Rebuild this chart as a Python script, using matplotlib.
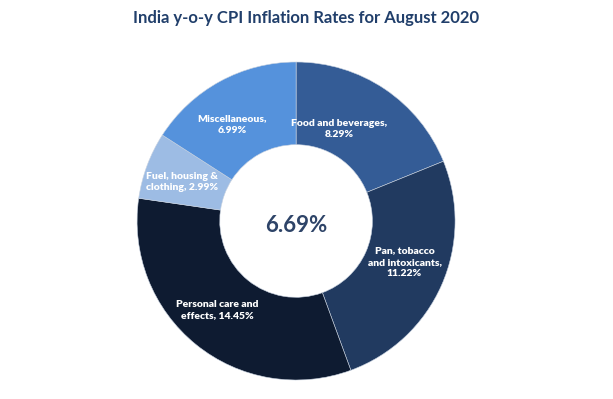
import numpy as np
import matplotlib.pyplot as plt

# India CPI components, Aug 2020
categories = ['Food and beverages,\n8.29%', 'Pan, tobacco\nand intoxicants,\n11.22%',
              'Personal care and\neffects, 14.45%', 'Fuel, housing &\nclothing, 2.99%',
              'Miscellaneous,\n6.99%']
values = [8.29, 11.22, 14.45, 2.99, 6.99]
colors = ['#345c96', '#213a60', '#0e1b31', '#9dbce4', '#5592dc']
headline = '6.69%'

# label nudges (angle shift in degrees, radius) to mimic the excel placement
label_shift = [9, 3, -2.6, 1.6, 5]
label_rad = [0.64, 0.73, 0.75, 0.76, 0.73]

fig = plt.figure(figsize=(6.13, 3.99), dpi=100)
ax = fig.add_axes([0.2235, 0.0476, 0.519, 0.797])

wedges, texts = ax.pie(values, labels=categories, colors=colors, startangle=90,
                       counterclock=False, radius=1.0, labeldistance=0.73,
                       wedgeprops=dict(width=0.52, edgecolor='#c8d2e0', linewidth=0.4),
                       textprops=dict(color='white', fontsize=7.5, fontweight='heavy',
                                      family='Lato'))
for w, t, da, r in zip(wedges, texts, label_shift, label_rad):
    ang = np.deg2rad((w.theta1 + w.theta2) / 2 + da)
    t.set_position((r * np.cos(ang), r * np.sin(ang)))
    t.set_ha('center')
    t.set_va('center')
    t.set_linespacing(1.35)

ax.text(0, -0.03, headline, ha='center', va='center', fontsize=16, fontweight='bold',
        color='#2e4468', family='Lato')
ax.set_xlim(-1, 1)
ax.set_ylim(-1, 1)
ax.set_aspect('equal')

fig.text(0.5, 0.955, 'India y-o-y CPI Inflation Rates for August 2020', ha='center',
         va='center', fontsize=12, fontweight='bold', color='#213f6b', family='Lato')

fig.savefig('out.png', dpi=100)
